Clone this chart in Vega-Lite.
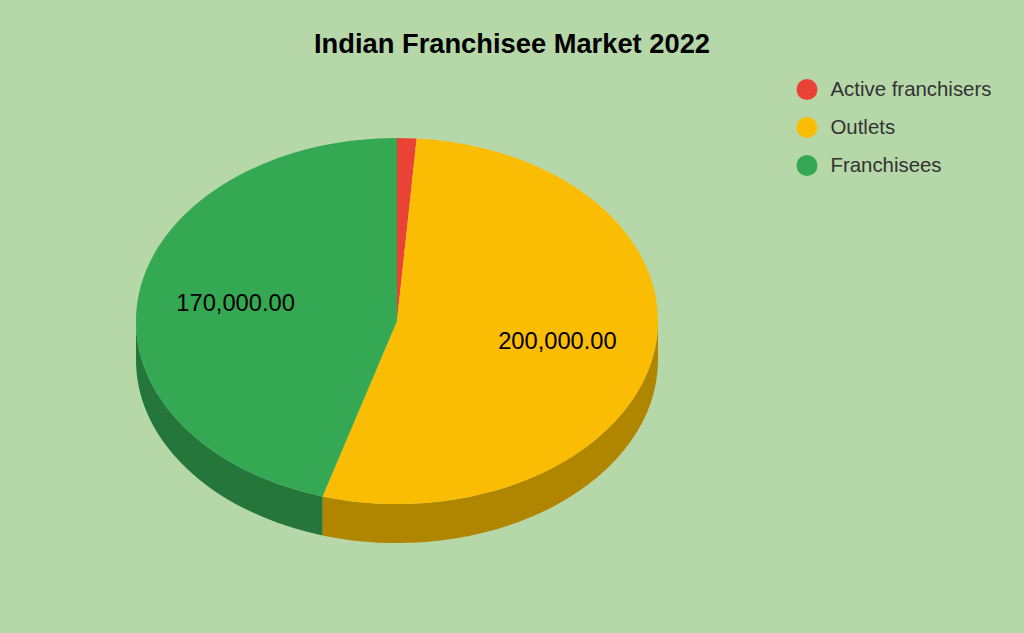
{
  "$schema": "https://vega.github.io/schema/vega-lite/v6.json",
  "width": 1024,
  "height": 633,
  "autosize": "none",
  "padding": 0,
  "background": "#b6d7a8",
  "title": {
    "text": "Indian Franchisee Market 2022",
    "font": "Liberation Sans",
    "fontSize": 27.3,
    "fontWeight": "bold",
    "color": "#000000",
    "anchor": "middle",
    "offset": -58
  },
  "data": {
    "values": [
      {"label": "Active franchisers", "value": 4500},
      {"label": "Outlets", "value": 200000},
      {"label": "Franchisees", "value": 170000}
    ]
  },
  "transform": [
    {"joinaggregate": [{"op": "sum", "field": "value", "as": "total"}]},
    {"window": [{"op": "sum", "field": "value", "as": "cum"}]},
    {"calculate": "(datum.cum - datum.value) / datum.total * 2 * PI", "as": "a0"},
    {"calculate": "datum.cum / datum.total * 2 * PI", "as": "a1"},
    {"calculate": "'M0,0L' + 261 * sin(datum.a0) + ',' + -183 * cos(datum.a0) + 'A261,183 0 ' + (datum.a1 - datum.a0 > PI ? 1 : 0) + ' 1 ' + 261 * sin(datum.a1) + ',' + -183 * cos(datum.a1) + 'Z'", "as": "topPath"},
    {"calculate": "max(datum.a0, PI / 2)", "as": "s"},
    {"calculate": "min(datum.a1, 3 * PI / 2)", "as": "e"},
    {"calculate": "'M' + 261 * sin(datum.s) + ',' + -183 * cos(datum.s) + 'A261,183 0 0 1 ' + 261 * sin(datum.e) + ',' + -183 * cos(datum.e) + 'L' + 261 * sin(datum.e) + ',' + (39 - 183 * cos(datum.e)) + 'A261,183 0 0 0 ' + 261 * sin(datum.s) + ',' + (39 - 183 * cos(datum.s)) + 'Z'", "as": "sidePath"},
    {"calculate": "(datum.a0 + datum.a1) / 2", "as": "mid"},
    {"calculate": "0.625 * 261 * sin(datum.mid)", "as": "labelX"},
    {"calculate": "0.63 * 183 * cos(datum.mid)", "as": "labelY"}
  ],
  "layer": [
    {
      "transform": [{"filter": "datum.e > datum.s"}],
      "mark": {"type": "point", "filled": true, "opacity": 1, "size": 4, "strokeWidth": 0},
      "encoding": {
        "x": {"datum": 0, "type": "quantitative", "scale": {"domain": [-397, 627], "nice": false, "zero": false}, "axis": null},
        "y": {"datum": 0, "type": "quantitative", "scale": {"domain": [-312, 321], "nice": false, "zero": false}, "axis": null},
        "shape": {"field": "sidePath", "type": "nominal", "scale": null, "legend": null},
        "color": {
          "field": "label",
          "type": "nominal",
          "scale": {"domain": ["Active franchisers", "Outlets", "Franchisees"], "range": ["#a42f25", "#b08600", "#24763a"]},
          "legend": null
        }
      }
    },
    {
      "mark": {"type": "point", "filled": true, "opacity": 1, "size": 4, "strokeWidth": 0},
      "encoding": {
        "x": {"datum": 0, "type": "quantitative"},
        "y": {"datum": 0, "type": "quantitative"},
        "shape": {"field": "topPath", "type": "nominal", "scale": null, "legend": null},
        "color": {
          "field": "label",
          "type": "nominal",
          "scale": {"domain": ["Active franchisers", "Outlets", "Franchisees"], "range": ["#ea4335", "#fbbc04", "#34a853"]},
          "legend": {
            "title": null,
            "orient": "none",
            "legendX": 796.5,
            "legendY": 79,
            "padding": 0,
            "symbolType": "circle",
            "symbolSize": 441,
            "symbolStrokeWidth": 0,
            "symbolOpacity": 1,
            "rowPadding": 17,
            "labelOffset": 13,
            "labelFont": "Liberation Sans",
            "labelFontSize": 20.4,
            "labelColor": "#333333",
            "labelLimit": 300
          }
        }
      }
    },
    {
      "transform": [{"filter": "datum.value / datum.total > 0.05"}],
      "mark": {"type": "text", "font": "Liberation Sans", "fontSize": 23.7, "color": "#000000", "align": "center", "baseline": "middle"},
      "encoding": {
        "x": {"field": "labelX", "type": "quantitative"},
        "y": {"field": "labelY", "type": "quantitative"},
        "text": {"field": "value", "type": "quantitative", "format": ",.2f"}
      }
    }
  ],
  "resolve": {"scale": {"color": "independent"}},
  "config": {"view": {"stroke": null}}
}
